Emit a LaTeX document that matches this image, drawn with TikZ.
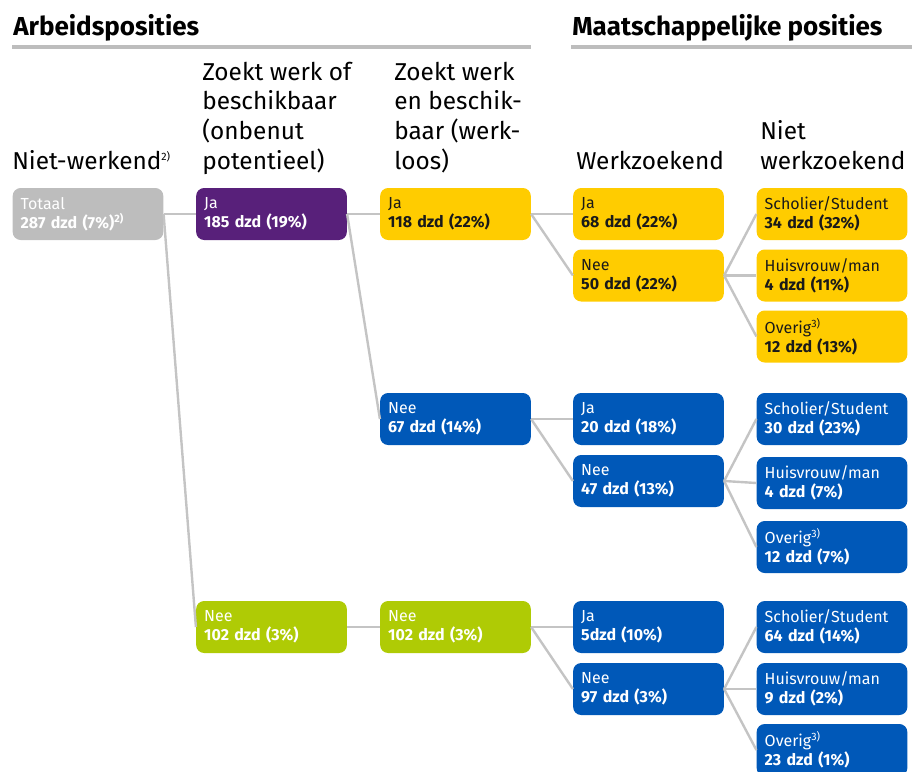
\documentclass[tikz,border=0pt]{standalone}
\usepackage{fontspec}
\setmainfont{Fira Sans}
\definecolor{grijs}{HTML}{BDBDBD}
\definecolor{lijn}{HTML}{C4C4C4}
\definecolor{paars}{HTML}{58207A}
\definecolor{geel}{HTML}{FFCC00}
\definecolor{blauw}{HTML}{0058B8}
\definecolor{groen}{HTML}{AFCB05}
\definecolor{donker}{HTML}{1A1A1A}
\begin{document}
\begin{tikzpicture}[x=0.75pt,y=-0.75pt]
\tikzstyle{vak} = [rounded corners=6pt,minimum width=113pt,minimum height=39pt,text width=101pt,inner xsep=6pt,inner ysep=0pt,align=left,font=\fontsize{12}{14.3}\selectfont,text=white]
\tikzstyle{kop} = [anchor=base west,inner sep=0pt,align=left,font=\fontsize{18.3}{22.2}\selectfont]
\tikzstyle{titel} = [anchor=base west,inner sep=0pt,font=\fontsize{19.5}{22}\selectfont\bfseries]
\tikzstyle{verbind} = [lijn,line width=1.8pt]
\useasboundingbox (0,0) rectangle (912,771);
  %titles
  \node[titel] (arb) at (13,35) {Arbeidsposities};
  \node[titel] (maat) at (572,35) {Maatschappelijke posities};
  \draw[grijs,line width=3pt] (12,47) -- (531,47);
  \draw[grijs,line width=3pt] (571,47) -- (912,47);
  %column heads (base = last line)
  \node[kop] (k1) at (12,169) {Niet-werkend\textsuperscript{\footnotesize 2)}};
  \node[kop] (k2) at (202,169) {Zoekt werk of\\beschikbaar\\(onbenut\\potentieel)};
  \node[kop] (k3) at (394,169) {Zoekt werk\\en beschik-\\baar (werk-\\loos)};
  \node[kop] (k4) at (576,169) {Werkzoekend};
  \node[kop] (k5) at (760,169) {Niet\\werkzoekend};
    %first columns
    \node[vak,fill=grijs] (totaal) at (88,214) {Totaal\\\textbf{287 dzd (7\%)\textsuperscript{2)}}};
    \node[vak,fill=paars] (onbJa) at (271.5,214) {Ja\\\textbf{185 dzd (19\%)}};
    \node[vak,fill=groen] (onbNee) at (271.5,627) {Nee\\\textbf{102 dzd (3\%)}};
    \node[vak,fill=geel,text=donker] (wlJa) at (455.5,214) {Ja\\\textbf{118 dzd (22\%)}};
    \node[vak,fill=blauw] (wlNee) at (455.5,419) {Nee\\\textbf{67 dzd (14\%)}};
    \node[vak,fill=groen] (wlNee2) at (455.5,627) {Nee\\\textbf{102 dzd (3\%)}};
      %werkzoekend
      \node[vak,fill=geel,text=donker] (wzJa1) at (648.5,214) {Ja\\\textbf{68 dzd (22\%)}};
      \node[vak,fill=geel,text=donker] (wzNee1) at (648.5,275.5) {Nee\\\textbf{50 dzd (22\%)}};
      \node[vak,fill=blauw] (wzJa2) at (648.5,419) {Ja\\\textbf{20 dzd (18\%)}};
      \node[vak,fill=blauw] (wzNee2) at (648.5,481) {Nee\\\textbf{47 dzd (13\%)}};
      \node[vak,fill=blauw] (wzJa3) at (648.5,627) {Ja\\\textbf{5dzd (10\%)}};
      \node[vak,fill=blauw] (wzNee3) at (648.5,689) {Nee\\\textbf{97 dzd (3\%)}};
      %niet werkzoekend
      \node[vak,fill=geel,text=donker] (schol1) at (832,214) {Scholier/Student\\\textbf{34 dzd (32\%)}};
      \node[vak,fill=geel,text=donker] (huis1) at (832,275.5) {Huisvrouw/man\\\textbf{4 dzd (11\%)}};
      \node[vak,fill=geel,text=donker] (overig1) at (832,336.5) {Overig\textsuperscript{3)}\\\textbf{12 dzd (13\%)}};
      \node[vak,fill=blauw] (schol2) at (832,419) {Scholier/Student\\\textbf{30 dzd (23\%)}};
      \node[vak,fill=blauw] (huis2) at (832,483) {Huisvrouw/man\\\textbf{4 dzd (7\%)}};
      \node[vak,fill=blauw] (overig2) at (832,547) {Overig\textsuperscript{3)}\\\textbf{12 dzd (7\%)}};
      \node[vak,fill=blauw] (schol3) at (832,627) {Scholier/Student\\\textbf{64 dzd (14\%)}};
      \node[vak,fill=blauw] (huis3) at (832,689) {Huisvrouw/man\\\textbf{9 dzd (2\%)}};
      \node[vak,fill=blauw] (overig3) at (832,750) {Overig\textsuperscript{3)}\\\textbf{23 dzd (1\%)}};
  %lines
  \draw[verbind] (totaal.east) -- (onbJa.west);
  \draw[verbind] (totaal.east) -- (onbNee.west);
  \draw[verbind] (onbJa.east) -- (wlJa.west);
  \draw[verbind] (onbJa.east) -- (wlNee.west);
  \draw[verbind] (onbNee.east) -- (wlNee2.west);
  \draw[verbind] (wlJa.east) -- (wzJa1.west);
  \draw[verbind] (wlJa.east) -- (wzNee1.west);
  \draw[verbind] (wlNee.east) -- (wzJa2.west);
  \draw[verbind] (wlNee.east) -- (wzNee2.west);
  \draw[verbind] (wlNee2.east) -- (wzJa3.west);
  \draw[verbind] (wlNee2.east) -- (wzNee3.west);
    \foreach \n in {schol1,huis1,overig1}
    \draw[verbind] (wzNee1.east) -- (\n.west);
    \foreach \n in {schol2,huis2,overig2}
    \draw[verbind] (wzNee2.east) -- (\n.west);
    \foreach \n in {schol3,huis3,overig3}
    \draw[verbind] (wzNee3.east) -- (\n.west);
\end{tikzpicture}
\end{document}
